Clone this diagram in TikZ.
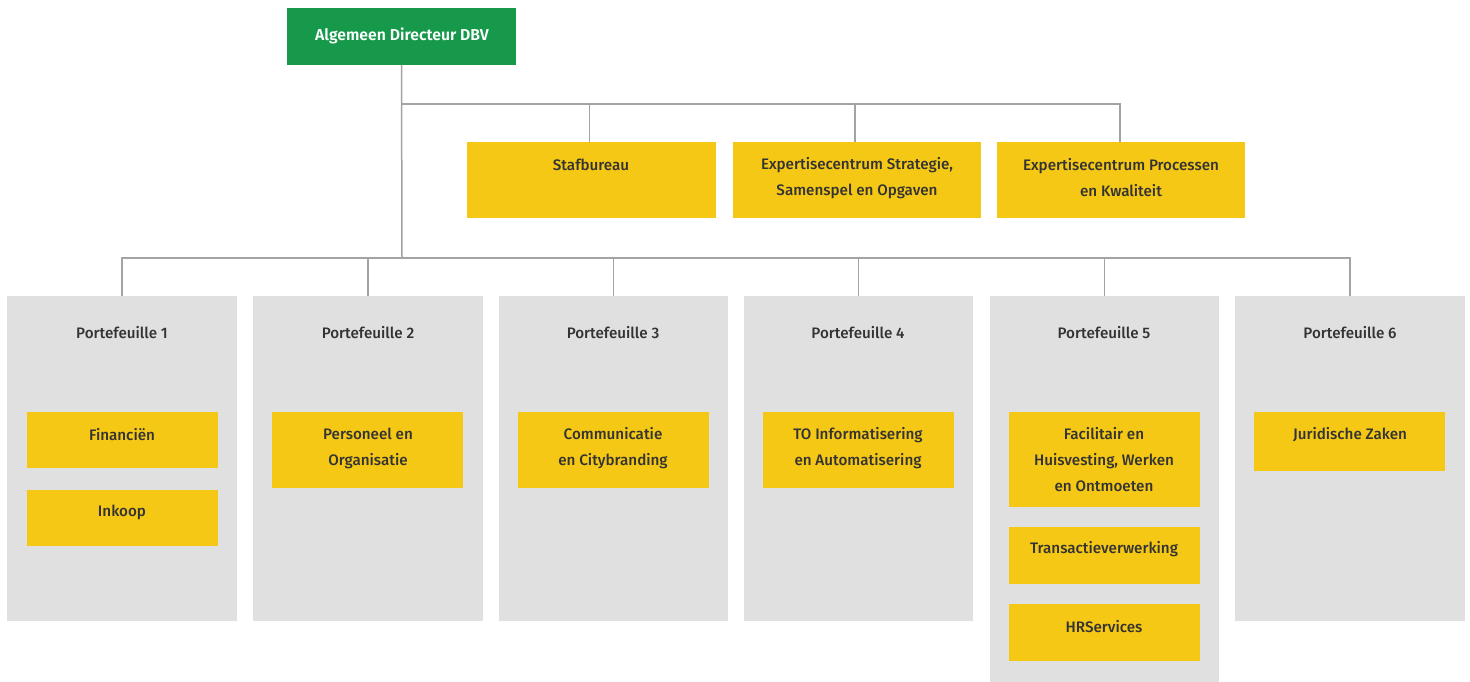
\documentclass[tikz,border=0pt]{standalone}
\usepackage{fontspec}
\setmainfont{Fira Sans Medium}
\newfontfamily\semib{Fira Sans SemiBold}
\definecolor{dgreen}{HTML}{16994A}
\definecolor{ylw}{HTML}{F5C815}
\definecolor{gbox}{HTML}{E0E0E0}
\definecolor{lne}{HTML}{A3A3A3}
\definecolor{txtc}{HTML}{333333}
\begin{document}
\begin{tikzpicture}[x=1pt,y=-1pt,
  box/.style={anchor=north west, inner sep=0pt, outer sep=0pt, draw=none},
  ybox/.style={box, fill=ylw},
  gybox/.style={box, fill=gbox},
  txt/.style={font=\fontsize{15.2}{26}\selectfont, text=txtc, align=center, inner sep=0pt},
  conn/.style={draw=lne, line width=1.5pt}
]
\useasboundingbox (0,0) rectangle (1470,682);
% director
\node[box, fill=dgreen, minimum width=229pt, minimum height=57pt] (dir) at (287,8) {};
\node[txt, text=white, font=\semib\fontsize{15.8}{26}\selectfont] (dirt) at (402,36) {Algemeen Directeur DBV};
% staff boxes
\node[ybox, minimum width=249pt, minimum height=76pt] (s1) at (467,142) {};
\node[ybox, minimum width=248pt, minimum height=76pt] (s2) at (733,142) {};
\node[ybox, minimum width=248pt, minimum height=76pt] (s3) at (997,142) {};
\node[txt] (s1t) at (591,165) {Stafbureau};
\node[txt] (s2t) at (857,178) {Expertisecentrum Strategie,\\Samenspel en Opgaven};
\node[txt] (s3t) at (1121,178) {Expertisecentrum Processen\\en Kwaliteit};
% portfolio boxes
\node[gybox, minimum width=230pt, minimum height=325pt] (p1) at (7,296) {};
\node[gybox, minimum width=230pt, minimum height=325pt] (p2) at (253,296) {};
\node[gybox, minimum width=229pt, minimum height=325pt] (p3) at (499,296) {};
\node[gybox, minimum width=229pt, minimum height=325pt] (p4) at (744,296) {};
\node[gybox, minimum width=229pt, minimum height=386pt] (p5) at (990,296) {};
\node[gybox, minimum width=230pt, minimum height=325pt] (p6) at (1235,296) {};
\node[txt] (p1t) at (122,333) {Portefeuille 1};
\node[txt] (p2t) at (368,333) {Portefeuille 2};
\node[txt] (p3t) at (613,333) {Portefeuille 3};
\node[txt] (p4t) at (858,333) {Portefeuille 4};
\node[txt] (p5t) at (1104,333) {Portefeuille 5};
\node[txt] (p6t) at (1350,333) {Portefeuille 6};
% units
\node[ybox, minimum width=191pt, minimum height=56pt] (u1a) at (27,412) {};
\node[ybox, minimum width=191pt, minimum height=56pt] (u1b) at (27,490) {};
\node[ybox, minimum width=191pt, minimum height=76pt] (u2) at (272,412) {};
\node[ybox, minimum width=191pt, minimum height=76pt] (u3) at (518,412) {};
\node[ybox, minimum width=191pt, minimum height=76pt] (u4) at (763,412) {};
\node[ybox, minimum width=191pt, minimum height=95pt] (u5a) at (1009,412) {};
\node[ybox, minimum width=191pt, minimum height=57pt] (u5b) at (1009,527) {};
\node[ybox, minimum width=191pt, minimum height=57pt] (u5c) at (1009,604) {};
\node[ybox, minimum width=191pt, minimum height=59pt] (u6) at (1254,412) {};
\node[txt] (u1at) at (122,435) {Financiën};
\node[txt] (u1bt) at (122,512) {Inkoop};
\node[txt] (u2t) at (368,448) {Personeel en\\Organisatie};
\node[txt] (u3t) at (613,448) {Communicatie\\en Citybranding};
\node[txt] (u4t) at (858,448) {TO Informatisering\\en Automatisering};
\node[txt] (u5at) at (1104,460) {Facilitair en\\Huisvesting, Werken\\en Ontmoeten};
\node[txt] (u5bt) at (1104,549) {Transactieverwerking};
\node[txt] (u5ct) at (1104,627) {HRServices};
\node[txt] (u6t) at (1350,435) {Juridische Zaken};
% connectors
\coordinate (j1) at (402,104);
\coordinate (j2) at (402,258);
\draw[conn] (dir.south) -- (j2);
\draw[conn] (j1) -| ([xshift=-2pt]s1.north);
\draw[conn] (j1) -| ([xshift=-2pt]s2.north);
\draw[conn] (j1) -| ([xshift=-1pt]s3.north);
\draw[conn] (j2) -| (p1.north);
\draw[conn] (j2) -| (p2.north);
\draw[conn] (j2) -| (p3.north);
\draw[conn] (j2) -| (p4.north);
\draw[conn] (j2) -| (p5.north);
\draw[conn] (j2) -| (p6.north);
\end{tikzpicture}
\end{document}
